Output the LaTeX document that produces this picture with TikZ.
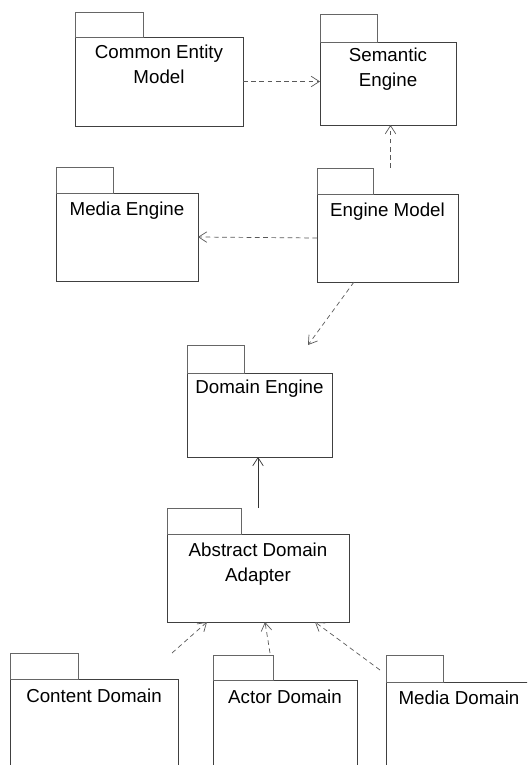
\documentclass[tikz,border=0pt]{standalone}
\usepackage{fontspec}
\setmainfont{Liberation Sans}
\usepackage{tikz}
\usetikzlibrary{arrows.meta,calc}

\tikzset{
  pkg/.style={draw=black!75, line width=0.6pt, anchor=north west, inner sep=0pt, outer sep=0pt},
  pkgtab/.style={draw=black!60, line width=0.6pt},
  pkgtext/.style={anchor=north, inner sep=0pt, align=center, font=\fontsize{16}{21}\selectfont},
  dep/.style={draw=black!65, line width=0.6pt, dash pattern=on 4pt off 3pt, -{Straight Barb[length=7pt,width=9pt]}},
  gen/.style={draw=black!80, line width=0.6pt, -{Straight Barb[length=7pt,width=9pt]}}
}

\begin{document}
\begin{tikzpicture}[x=0.03cm, y=-0.03cm]
\useasboundingbox (0,0) rectangle (527,765);
\clip (0,0) rectangle (527,765);

% packages
\node[pkg, minimum width=5.04cm, minimum height=2.67cm] (cem) at (75,37) {};
\draw[pkgtab] (cem.north west) rectangle ++(68,-25);
\node[pkgtext] (cemL) at ([yshift=-6.8pt]cem.north) {Common Entity\\Model};

\node[pkg, minimum width=4.08cm, minimum height=2.49cm] (sem) at (320,42) {};
\draw[pkgtab] (sem.north west) rectangle ++(57,-28);
\node[pkgtext] (semL) at ([yshift=-5pt]sem.north) {Semantic\\Engine};

\node[pkg, minimum width=4.26cm, minimum height=2.64cm] (me) at (56,193) {};
\draw[pkgtab] (me.north west) rectangle ++(57,-26);
\node[pkgtext] (meL) at ([yshift=-7.5pt]me.north) {Media Engine};

\node[pkg, minimum width=4.23cm, minimum height=2.64cm] (em) at (317,194) {};
\draw[pkgtab] (em.north west) rectangle ++(56,-26);
\node[pkgtext] (emL) at ([yshift=-7.5pt]em.north) {Engine Model};

\node[pkg, minimum width=4.35cm, minimum height=2.52cm] (de) at (187,373) {};
\draw[pkgtab] (de.north west) rectangle ++(57,-28);
\node[pkgtext] (deL) at ([yshift=-6pt]de.north) {Domain Engine};

\node[pkg, minimum width=5.46cm, minimum height=2.64cm] (ada) at (167,534) {};
\draw[pkgtab] (ada.north west) rectangle ++(74,-26);
\node[pkgtext] (adaL) at ([yshift=-7.5pt]ada.north) {Abstract Domain\\Adapter};

\node[pkg, minimum width=5.04cm, minimum height=3cm] (cd) at (10,679) {};
\draw[pkgtab] (cd.north west) rectangle ++(68,-26);
\node[pkgtext] (cdL) at ([yshift=-8pt]cd.north) {Content Domain};

\node[pkg, minimum width=4.32cm, minimum height=3cm] (ad) at (213,680) {};
\draw[pkgtab] (ad.north west) rectangle ++(60,-25);
\node[pkgtext] (adL) at ([yshift=-8pt]ad.north) {Actor Domain};

\node[pkg, minimum width=4.38cm, minimum height=3cm] (md) at (386,682) {};
\draw[pkgtab] (md.north west) rectangle ++(57,-27);
\node[pkgtext] (mdL) at ([yshift=-7pt]md.north) {Media Domain};

% dependencies
\coordinate (emTop) at ($(em.north)+(3,-26)$);
\coordinate (emOut) at ($(em.south west)+(37,0)$);
\coordinate (deIn) at ($(de.north east)+(-24,-28)$);
\coordinate (adaTop) at ($(ada.north)+(0,-26)$);
\coordinate (cdOut) at ($(cd.north east)+(-6,-26)$);
\coordinate (adOut) at ($(ad.north west)+(57,-27)$);
\coordinate (mdOut) at ($(md.north west)+(-6,-12)$);

\draw[dep] (cem.east) -- (cem.east -| sem.west);
\draw[dep] (emTop) -- (emTop |- sem.south);
\draw[dep] (em.west) -- (me.east);
\draw[dep] (emOut) -- (deIn);
\draw[gen] (adaTop) -- (adaTop |- de.south);
\draw[dep] (cdOut) -- ($(ada.south west)+(40,0)$);
\draw[dep] (adOut) -- ($(ada.south west)+(98,0)$);
\draw[dep] (mdOut) -- ($(ada.south west)+(148,0)$);
\end{tikzpicture}
\end{document}
